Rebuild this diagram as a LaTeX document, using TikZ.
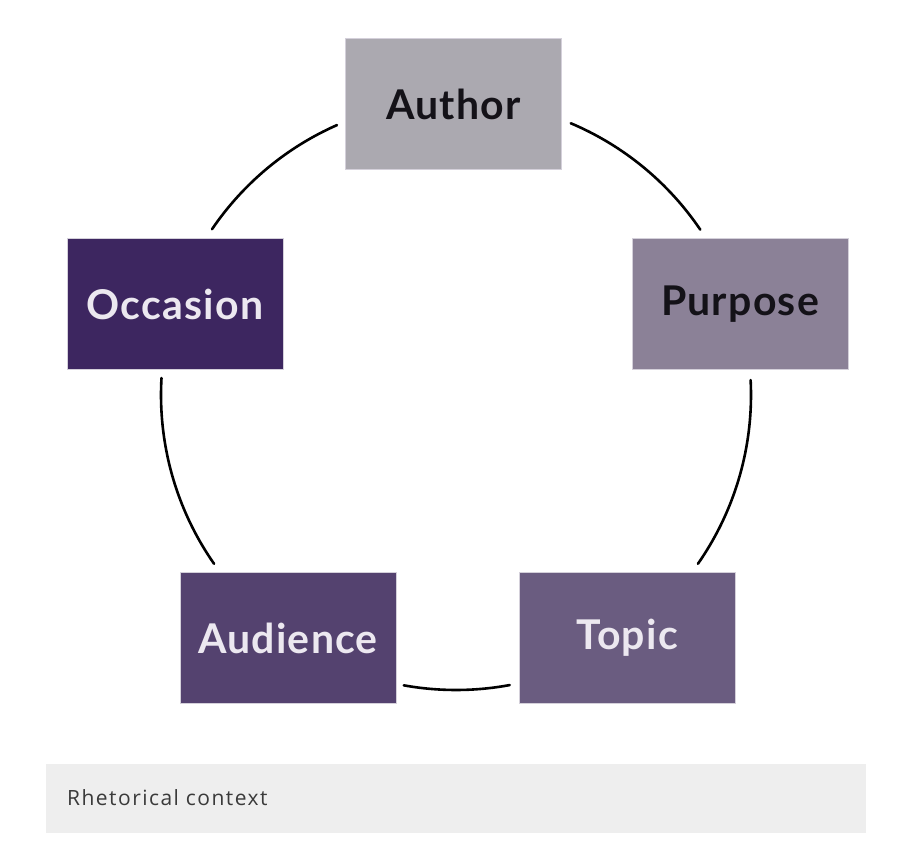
\documentclass[tikz,border=0pt]{standalone}
\usepackage{fontspec}
\setmainfont{Lato}
\newfontfamily\capfont{Open Sans}[LetterSpace=7]
\definecolor{cAuthor}{HTML}{ABA9B0}
\definecolor{cPurpose}{HTML}{8B8197}
\definecolor{cOccasion}{HTML}{3D2660}
\definecolor{cAudience}{HTML}{54426F}
\definecolor{cTopic}{HTML}{6A5C80}
\definecolor{cEdge}{HTML}{D4D0DA}
\definecolor{cDark}{HTML}{141218}
\definecolor{cLight}{HTML}{ECE8F0}
\definecolor{cCapBg}{HTML}{EEEEEE}
\definecolor{cCapTx}{HTML}{3A3A3A}
\begin{document}
\begin{tikzpicture}[x=1pt,y=-1pt,
  box/.style={draw=cEdge, line width=0.8pt, minimum width=216pt, minimum height=131pt, inner sep=0pt,
    font=\fontsize{41}{48}\selectfont\bfseries\addfontfeature{LetterSpace=3}},
  ring/.style={line width=2.6pt, black, line cap=round}]
\useasboundingbox[fill=white] (0,0) rectangle (898,846);
\coordinate (ctr) at (456,395);
\node[box, fill=cAuthor, text=cDark] (author) at (453.5,104) {Author};
\node[box, fill=cPurpose, text=cDark] (purpose) at (740,304) {Purpose};
\node[box, fill=cOccasion, text=cLight] (occasion) at (175,304) {Occasion};
\node[box, fill=cAudience, text=cLight] (audience) at (288,638) {Audience};
\node[box, fill=cTopic, text=cLight] (topic) at (627,638) {Topic};
% ring arcs (y axis points down, so angles are mirrored)
\draw[ring] (ctr) ++(-67.1:295) arc[start angle=-67.1, end angle=-34.1, radius=295];
\draw[ring] (ctr) ++(-2.9:295) arc[start angle=-2.9, end angle=34.9, radius=295];
\draw[ring] (ctr) ++(79.5:295) arc[start angle=79.5, end angle=100.2, radius=295];
\draw[ring] (ctr) ++(145.1:295) arc[start angle=145.1, end angle=183.3, radius=295];
\draw[ring] (ctr) ++(214.2:295) arc[start angle=214.2, end angle=246.2, radius=295];
% caption
\node[fill=cCapBg, minimum width=820pt, minimum height=69pt, inner sep=0pt] (capbox) at (456,798.5) {};
\node[anchor=west, text=cCapTx, font=\fontsize{21}{24}\selectfont\capfont, inner sep=0pt] (cap) at (67,798) {Rhetorical context};
\end{tikzpicture}
\end{document}
